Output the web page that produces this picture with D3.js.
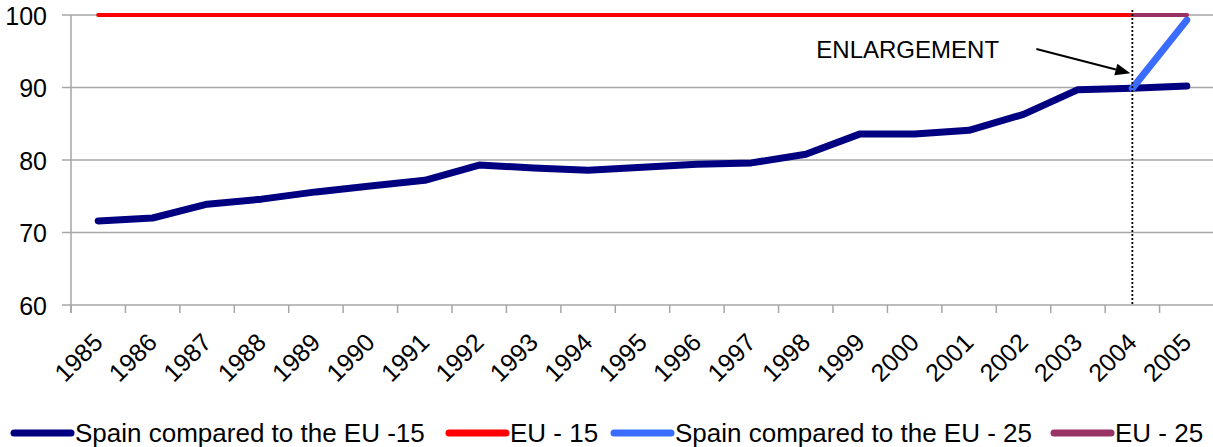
<!DOCTYPE html>
<html>
<head>
<meta charset="utf-8">
<script src="https://cdn.jsdelivr.net/npm/d3@7"></script>
<style>
  body { margin: 0; background: #fff; }
  text { font-family: "Liberation Sans", Arial, sans-serif; fill: #000; }
</style>
</head>
<body>
<div id="chart-area"></div>
<script>
// data
const years = ['1985', '1986', '1987', '1988', '1989', '1990', '1991', '1992', '1993', '1994', '1995',
  '1996', '1997', '1998', '1999', '2000', '2001', '2002', '2003', '2004', '2005'];
const spainEU15 = [71.6, 72.0, 73.9, 74.6, 75.6, 76.4, 77.2, 79.3, 78.9, 78.6, 79.0,
  79.4, 79.6, 80.8, 83.6, 83.6, 84.1, 86.3, 89.7, 89.9, 90.2];
const eu15 = [100, 100, 100, 100, 100, 100, 100, 100, 100, 100, 100,
  100, 100, 100, 100, 100, 100, 100, 100, 100, 100];
const spainEU25 = [null, null, null, null, null, null, null, null, null, null, null,
  null, null, null, null, null, null, null, null, 89.9, 99.3];
const eu25 = [null, null, null, null, null, null, null, null, null, null, null,
  null, null, null, null, null, null, null, null, 100, 100];
const yTicks = [60, 70, 80, 90, 100];

const series = [
  {name: 'Spain compared to the EU -15', values: spainEU15, color: '#000080', width: 7, lx: 14},
  {name: 'EU - 15', values: eu15, color: '#ff0000', width: 4, lx: 449},
  {name: 'Spain compared to the EU - 25', values: spainEU25, color: '#3a6cff', width: 7, lx: 614},
  {name: 'EU - 25', values: eu25, color: '#993366', width: 4, lx: 1054}
];

// Set Size for Chart (svg)
const margin = {left: 71, right: 0, top: 15, bottom: 142};
const width = 1213 - margin.left - margin.right;
const height = 447 - margin.top - margin.bottom;

const svg = d3.select('#chart-area')
  .append('svg')
  .attr('width', width + margin.left + margin.right)
  .attr('height', height + margin.top + margin.bottom);

const g = svg.append('g')
  .attr('transform', `translate(${margin.left}, ${margin.top})`);

const x = d3.scaleBand()
  .domain(years)
  .range([0, width + 1]);

const y = d3.scaleLinear()
  .domain([60, 100])
  .range([height, 0]);

const cx = d => x(d) + x.bandwidth() / 2;

// grid lines
g.selectAll('.grid')
  .data(yTicks)
  .enter()
  .append('line')
    .attr('class', 'grid')
    .attr('x1', -9)
    .attr('x2', width)
    .attr('y1', d => y(d))
    .attr('y2', d => y(d))
    .attr('stroke', '#a6a6a6')
    .attr('stroke-width', 1.5);

// Y Axis
const yAxisCall = d3.axisLeft(y)
  .tickValues(yTicks)
  .tickSize(0)
  .tickPadding(24);

const yAxis = g.append('g')
  .attr('class', 'y-axis')
  .call(yAxisCall);
yAxis.select('.domain').remove();
yAxis.selectAll('text')
  .attr('font-size', '25px')
  .attr('dy', '0.36em');

g.append('line')
  .attr('x1', 0).attr('x2', 0)
  .attr('y1', y(100)).attr('y2', height + 8)
  .attr('stroke', '#a6a6a6')
  .attr('stroke-width', 1.5);

// X Axis (ticks between categories, labels on centres)
g.selectAll('.x-tick')
  .data(years)
  .enter()
  .append('line')
    .attr('class', 'x-tick')
    .attr('x1', d => x(d))
    .attr('x2', d => x(d))
    .attr('y1', height)
    .attr('y2', height + 8)
    .attr('stroke', '#a6a6a6')
    .attr('stroke-width', 1.5);

const xAxisCall = d3.axisBottom(x).tickSize(0);
const xAxis = g.append('g')
  .attr('class', 'x-axis')
  .attr('transform', `translate(0, ${height})`)
  .call(xAxisCall);
xAxis.select('.domain').remove();
xAxis.selectAll('text')
  .attr('font-size', '25px')
  .attr('text-anchor', 'end')
  .attr('x', 0)
  .attr('y', 0)
  .attr('dy', 0)
  .attr('transform', 'translate(6, 39) rotate(-45)');

// lines
const line = d3.line()
  .defined(d => d[1] !== null)
  .x(d => cx(d[0]))
  .y(d => y(d[1]));

g.selectAll('.series')
  .data(series)
  .enter()
  .append('path')
    .attr('class', 'series')
    .attr('fill', 'none')
    .attr('stroke', d => d.color)
    .attr('stroke-width', d => d.width)
    .attr('stroke-linecap', 'round')
    .attr('stroke-linejoin', 'round')
    .attr('d', d => line(years.map((yr, i) => [yr, d.values[i]])));

// enlargement marker
const xe = cx('2004');
g.append('line')
  .attr('x1', xe).attr('x2', xe)
  .attr('y1', -5).attr('y2', height)
  .attr('stroke', '#000')
  .attr('stroke-width', 1.8)
  .attr('stroke-dasharray', '2,2');

g.append('text')
  .attr('x', xe - 316)
  .attr('y', 43)
  .attr('font-size', '24px')
  .text('ENLARGEMENT');

const tip = [xe - 2, y(spainEU15[19]) - 15];
const start = [xe - 96, 34];
const ang = Math.atan2(tip[1] - start[1], tip[0] - start[0]);
const len = 15, half = 6;
const base = [tip[0] - len * Math.cos(ang), tip[1] - len * Math.sin(ang)];
g.append('line')
  .attr('x1', start[0]).attr('y1', start[1])
  .attr('x2', base[0]).attr('y2', base[1])
  .attr('stroke', '#000')
  .attr('stroke-width', 2);
g.append('path')
  .attr('d', `M${tip[0]},${tip[1]}` +
    `L${base[0] + half * Math.sin(ang)},${base[1] - half * Math.cos(ang)}` +
    `L${base[0] - half * Math.sin(ang)},${base[1] + half * Math.cos(ang)}Z`)
  .attr('fill', '#000');

// legend
const legend = svg.append('g').attr('class', 'legend');
const items = legend.selectAll('g')
  .data(series)
  .enter()
  .append('g')
    .attr('transform', d => `translate(${d.lx}, 433)`);
items.append('line')
  .attr('x1', 0).attr('x2', 57)
  .attr('stroke', d => d.color)
  .attr('stroke-width', 7)
  .attr('stroke-linecap', 'round');
items.append('text')
  .attr('x', 61)
  .attr('y', 9)
  .attr('font-size', '26px')
  .text(d => d.name);
</script>
</body>
</html>
